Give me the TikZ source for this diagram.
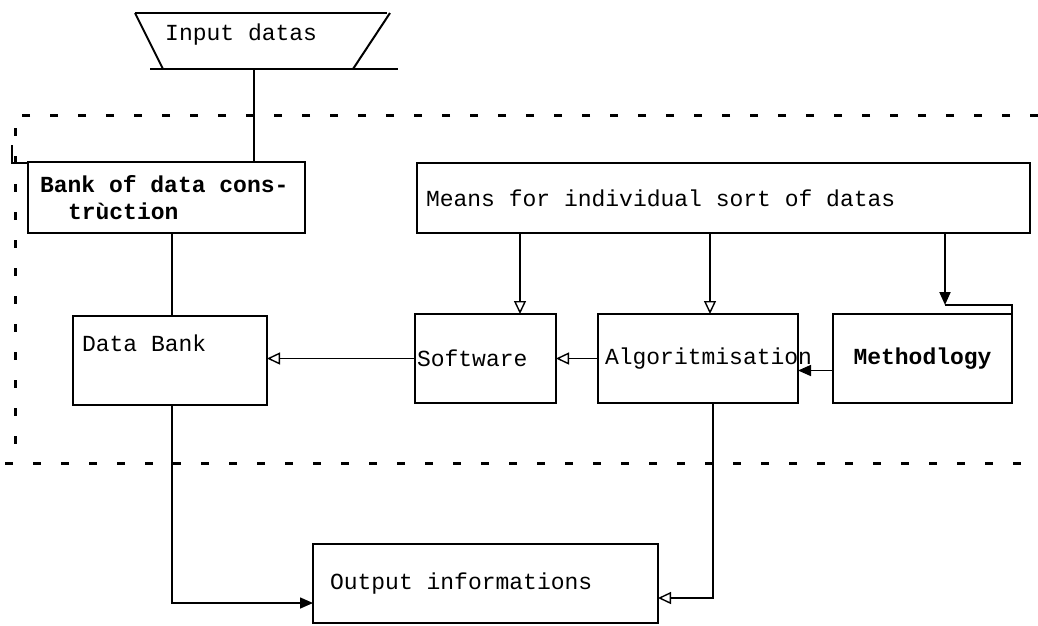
\documentclass[tikz,border=0pt]{standalone}
\usepackage{fontspec}
\newfontfamily\tw{Liberation Mono}
\newcommand\twf{\tw\fontsize{23}{27}\selectfont}
\newcommand\monosp{\spaceskip=13.8pt\xspaceskip=13.8pt\relax}
\usetikzlibrary{arrows.meta}
\begin{document}
\begin{tikzpicture}[x=1pt,y=-1pt,
  box/.style={draw, line width=2pt, anchor=north west, inner ysep=0pt, outer sep=0pt, font=\twf},
  lbl/.style={inner sep=0pt, font=\twf},
  arr/.style={line width=1.4pt, -{Triangle[open,length=13pt,width=12pt,line width=1.4pt]}},
  arrf/.style={line width=1.6pt, -{Triangle[length=13pt,width=11pt]}},
  ln/.style={line width=1.4pt},
  frame/.style={line width=3pt, dash pattern=on 8pt off 20pt},
  edge/.style={line width=2pt}]
\useasboundingbox (0,0) rectangle (1038,625);

% dashed frame
\draw[frame] (1038,115) -- (15,115) -- (15,463);
\draw[frame] (5,463) -- (1038,463);
\draw[edge] (12,145) |- (28,163);

% input trapezium
\draw[edge] (135,13) -- (387,13);
\draw[edge] (135,13) -- (163,69);
\draw[edge] (390,13) -- (353,69);
\draw[edge] (150,69) -- (398,69);
\node[lbl, anchor=west] (input) at (165,35) {\monosp Input datas};
\coordinate (inbot) at (254,69);

% boxes
\node[box, minimum width=277pt, minimum height=71pt, inner xsep=12pt, text width=253pt, align=left, font=\twf\bfseries]
  (bank) at (28,162) {\monosp Bank of data cons-\\\hspace*{28pt}trùction};
\node[box, minimum width=613pt, minimum height=70pt, inner xsep=9pt, text width=595pt, align=left]
  (means) at (417,163) {\monosp Means for individual sort of datas};
\node[box, minimum width=194pt, minimum height=89pt, inner xsep=9pt, text width=176pt, align=left, text height=16pt, text depth=34pt]
  (databank) at (73,316) {\monosp Data Bank};
\node[box, minimum width=141pt, minimum height=89pt, inner xsep=2pt, text width=137pt, align=left]
  (software) at (415,314) {Software};
\node[box, minimum width=200pt, minimum height=89pt, inner xsep=7pt, text width=186pt, align=left]
  (algo) at (598,314) {\mbox{Algoritmisation}};
\node[box, minimum width=179pt, minimum height=89pt, inner xsep=4pt, font=\twf\bfseries]
  (method) at (833,314) {Methodlogy};
\node[box, minimum width=345pt, minimum height=79pt, inner xsep=17pt, text width=311pt, align=left]
  (output) at (313,544) {\monosp Output informations};

% connectors
\draw[ln] (inbot) -- (inbot |- bank.north);
\coordinate (c1) at ([xshift=5.5pt]bank.south);
\draw[ln] (c1) -- (c1 |- databank.north);

\coordinate (m1) at ([xshift=103pt]means.south west);
\coordinate (m2) at ([xshift=293pt]means.south west);
\coordinate (m3) at ([xshift=528pt]means.south west);
\coordinate (mtip) at (945,305);
\draw[arr] (m1) -- (m1 |- software.north);
\draw[arr] (m2) -- (m2 |- algo.north);
\draw[arrf, line width=2pt] (m3) -- (mtip);
\draw[edge] (mtip) -| (method.north east);

\draw[arrf] ([yshift=-12pt]method.west) -- ([yshift=-12pt]algo.east);
\draw[arr] (algo.west) -- (software.east);
\draw[arr] (software.west) -- (software.west -| databank.east);

\coordinate (c2) at ([xshift=2pt]databank.south);
\draw[arrf] (c2) |- ([yshift=-19.5pt]output.west);
\coordinate (c3) at ([xshift=15pt]algo.south);
\draw[arr] (c3) |- ([yshift=-14.5pt]output.east);
\end{tikzpicture}
\end{document}
